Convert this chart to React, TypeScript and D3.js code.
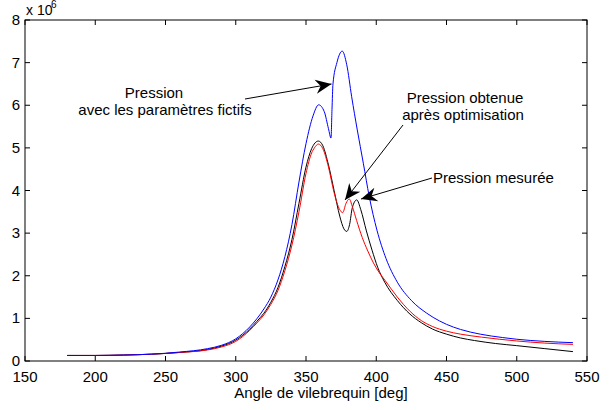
import React from "react";
import * as d3 from "d3";

const xTicks = [150, 200, 250, 300, 350, 400, 450, 500, 550];
const yTicks = [0, 1, 2, 3, 4, 5, 6, 7, 8];

const blueAngle = [180, 200, 220, 240, 260, 280, 290, 300, 310, 315, 320, 325, 330, 335, 340, 345, 350, 355, 359, 363, 366, 367.8, 368.5, 369.2, 372, 375.8, 379, 382.5, 386.5, 390.8, 395, 400.5, 407, 415, 425, 436, 445, 450, 460, 474, 490, 500, 520, 540];
const blueValue = [0.13, 0.13, 0.14, 0.16, 0.21, 0.29, 0.37, 0.52, 0.8, 0.99, 1.22, 1.5, 1.9, 2.45, 3.2, 4.2, 5.1, 5.75, 6.01, 5.85, 5.45, 5.23, 5.9, 6.5, 7.0, 7.27, 6.95, 6.2, 5.42, 4.64, 3.86, 3.07, 2.4, 1.85, 1.42, 1.12, 0.94, 0.86, 0.74, 0.63, 0.55, 0.51, 0.46, 0.43];

const blackAngle = [180, 200, 220, 240, 260, 280, 290, 300, 310, 315, 320, 325, 330, 335, 340, 345, 350, 354, 358.8, 362, 366, 370, 374, 377, 379, 381, 383, 386.1, 389, 393, 397, 401, 406, 415, 424, 432, 440, 450, 460, 470, 485, 500, 520, 540];
const blackValue = [0.13, 0.13, 0.14, 0.16, 0.2, 0.27, 0.35, 0.49, 0.75, 0.93, 1.12, 1.38, 1.72, 2.22, 2.85, 3.7, 4.55, 4.98, 5.16, 5.05, 4.6, 4.0, 3.4, 3.1, 3.04, 3.2, 3.6, 3.78, 3.55, 3.05, 2.6, 2.2, 1.85, 1.42, 1.1, 0.9, 0.75, 0.63, 0.54, 0.48, 0.41, 0.36, 0.29, 0.22];

const redAngle = [180, 200, 220, 240, 260, 280, 290, 300, 310, 315, 320, 325, 330, 335, 340, 345, 350, 354, 356, 358.8, 362, 366, 370, 374, 376.1, 378.5, 380.8, 383, 386, 390, 394, 398, 402, 406.5, 415, 424.2, 432, 440, 450, 460, 475, 500, 520, 540];
const redValue = [0.13, 0.13, 0.14, 0.16, 0.2, 0.26, 0.33, 0.46, 0.72, 0.89, 1.08, 1.33, 1.65, 2.12, 2.72, 3.5, 4.4, 4.88, 5.0, 5.09, 4.98, 4.55, 3.95, 3.55, 3.48, 3.7, 3.8, 3.62, 3.3, 2.9, 2.58, 2.3, 2.08, 1.88, 1.5, 1.16, 0.95, 0.81, 0.7, 0.63, 0.56, 0.47, 0.42, 0.39];

const seriesColors = ["#000000", "#ff0000", "#0000ff"];

const W = 611, H = 410;
const L = 25, R = 587, T = 20, B = 361;
const FONT = "'Liberation Sans', Arial, Helvetica, sans-serif";

function arrowHead(x1: number, y1: number, x2: number, y2: number) {
  const dx = x2 - x1, dy = y2 - y1;
  const len = Math.hypot(dx, dy);
  const ux = dx / len, uy = dy / len;
  const px = -uy, py = ux;
  const hl = 16, hw = 7, back = 11;
  const bx = x2 - ux * hl, by = y2 - uy * hl;
  const nx = x2 - ux * back, ny = y2 - uy * back;
  return `M${x2},${y2} L${bx + px * hw},${by + py * hw} L${nx},${ny} L${bx - px * hw},${by - py * hw} Z`;
}

export default function App() {
  const x = d3.scaleLinear().domain([150, 550]).range([L, R]);
  const y = d3.scaleLinear().domain([0, 8]).range([B, T]);
  const line = d3
    .line<[number, number]>()
    .x((d) => x(d[0]))
    .y((d) => y(d[1]))
    .curve(d3.curveMonotoneX);
  const series = [
    d3.zip(blackAngle, blackValue) as [number, number][],
    d3.zip(redAngle, redValue) as [number, number][],
    d3.zip(blueAngle, blueValue) as [number, number][],
  ];
  const arrows = [
    { x1: 245, y1: 99, x2: 331.5, y2: 84 },
    { x1: 403, y1: 125, x2: 345, y2: 200 },
    { x1: 432, y1: 178, x2: 361, y2: 199 },
  ];
  return (
    <svg width={W} height={H} style={{ position: "absolute", left: 0, top: 0, background: "#fff" }} fontFamily={FONT}>
      <rect x={0} y={0} width={W} height={H} fill="#fff" />
      {series.map((s, i) => (
        <path key={i} d={line(s) || ""} fill="none" stroke={seriesColors[i]} strokeWidth={1} />
      ))}
      <rect x={L} y={T} width={R - L} height={B - T} fill="none" stroke="#000" strokeWidth={1} />
      {xTicks.map((t) => (
        <g key={"x" + t}>
          <line x1={x(t)} x2={x(t)} y1={B} y2={B - 5} stroke="#000" />
          <line x1={x(t)} x2={x(t)} y1={T} y2={T + 5} stroke="#000" />
          <text x={x(t)} y={B + 21} fontSize={15} textAnchor="middle">{t}</text>
        </g>
      ))}
      {yTicks.map((t) => (
        <g key={"y" + t}>
          <line x1={L} x2={L + 5} y1={y(t)} y2={y(t)} stroke="#000" />
          <line x1={R} x2={R - 5} y1={y(t)} y2={y(t)} stroke="#000" />
          <text x={L - 5} y={y(t) + 5} fontSize={15} textAnchor="end">{t}</text>
        </g>
      ))}
      <text x={26} y={15} fontSize={14}>x 10</text>
      <text x={51} y={8} fontSize={10}>6</text>
      <text x={321} y={398} fontSize={15} textAnchor="middle">Angle de vilebrequin [deg]</text>
      {arrows.map((a, i) => (
        <g key={"a" + i}>
          <line x1={a.x1} y1={a.y1} x2={a.x2} y2={a.y2} stroke="#000" strokeWidth={1} />
          <path d={arrowHead(a.x1, a.y1, a.x2, a.y2)} fill="#000" />
        </g>
      ))}
      <text x={154} y={98} fontSize={15} textAnchor="middle">Pression</text>
      <text x={165} y={115} fontSize={15} textAnchor="middle">avec les paramètres fictifs</text>
      <text x={465} y={103} fontSize={15} textAnchor="middle">Pression obtenue</text>
      <text x={463} y={120} fontSize={15} textAnchor="middle">après optimisation</text>
      <text x={433} y={183} fontSize={15}>Pression mesurée</text>
    </svg>
  );
}
